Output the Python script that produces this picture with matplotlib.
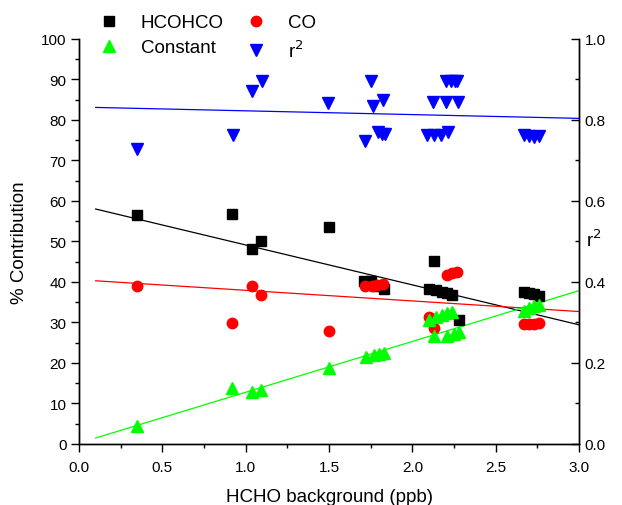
import matplotlib
matplotlib.use("Agg")
import matplotlib.pyplot as plt
import numpy as np

plt.rcParams['font.family'] = ['Liberation Sans', 'DejaVu Sans']

# ---- data ----
hco_x = [0.35, 0.92, 1.04, 1.09, 1.50, 1.71, 1.75, 1.79, 1.83,
         2.10, 2.127, 2.14, 2.18, 2.21, 2.24, 2.28,
         2.67, 2.70, 2.73, 2.76]
hco_y = [56.5, 56.8, 48.1, 50.0, 53.5, 40.2, 40.3, 39.0, 38.3,
         38.3, 45.1, 37.9, 37.6, 37.2, 36.8, 30.7,
         37.6, 37.3, 37.0, 36.5]

co_x = [0.35, 0.92, 1.04, 1.09, 1.50, 1.716, 1.756, 1.786, 1.826,
        2.10, 2.127, 2.13, 2.21, 2.24, 2.27,
        2.67, 2.70, 2.73, 2.76]
co_y = [39.0, 29.8, 39.1, 36.9, 28.0, 39.1, 38.9, 39.3, 39.5,
        31.3, 28.6, 30.9, 41.7, 42.1, 42.4,
        29.6, 29.6, 29.7, 29.9]

const_x = [0.35, 0.92, 1.04, 1.09, 1.50, 1.72, 1.77, 1.80, 1.83,
           2.10, 2.14, 2.18, 2.21, 2.24, 2.127, 2.21, 2.25, 2.28,
           2.67, 2.70, 2.73, 2.76]
const_y = [4.4, 13.75, 12.9, 13.4, 18.8, 21.4, 22.0, 22.2, 22.5,
           30.7, 31.3, 31.9, 32.3, 32.7, 26.6, 26.6, 27.2, 27.6,
           32.9, 33.5, 34.0, 34.3]

r2_x = [0.346, 0.922, 1.04, 1.096, 1.496,
        1.716, 1.752, 1.762, 1.796, 1.816, 1.826, 1.836,
        2.09, 2.122, 2.13, 2.17, 2.202, 2.202, 2.216, 2.232, 2.256, 2.27, 2.276,
        2.67, 2.70, 2.73, 2.76]
r2_y = [0.728, 0.763, 0.872, 0.897, 0.842,
        0.749, 0.897, 0.835, 0.770, 0.765, 0.850, 0.765,
        0.763, 0.844, 0.763, 0.763, 0.844, 0.895, 0.771, 0.897, 0.897, 0.897, 0.844,
        0.762, 0.760, 0.758, 0.760]

# linear fit lines: (intercept at x=0, slope)
fit_range = [0.1, 3.0]
hco_fit = [59.0, -9.86]
co_fit = [40.56, -2.62]
const_fit = [0.22, 12.55]
r2_fit = [0.8319, -0.0093]

# ---- plot ----
fig = plt.figure(figsize=(6.22, 5.06), dpi=100)
ax = fig.add_axes([0.127, 0.1206, 0.804, 0.8004])
ax2 = ax.twinx()

xf = np.array(fit_range)
ax.plot(xf, hco_fit[0] + hco_fit[1] * xf, color='black', lw=0.9, zorder=2)
ax.plot(xf, co_fit[0] + co_fit[1] * xf, color='#ff0000', lw=0.9, zorder=2)
ax.plot(xf, const_fit[0] + const_fit[1] * xf, color='#00ff00', lw=0.9, zorder=2)
ax2.plot(xf, r2_fit[0] + r2_fit[1] * xf, color='#0000ff', lw=0.9, zorder=2)

h1, = ax.plot(hco_x, hco_y, 's', color='black', ms=6.5, ls='none', label='HCOHCO', zorder=3)
h2, = ax.plot(co_x, co_y, 'o', color='#ff0000', ms=7.5, ls='none', label='CO', zorder=3)
h3, = ax.plot(const_x, const_y, '^', color='#00ff00', ms=8.5, ls='none', label='Constant', zorder=3)
h4, = ax2.plot(r2_x, r2_y, 'v', color='#0000ff', ms=8.5, ls='none', label='r$^2$', zorder=3)

ax.set_xlim(0, 3.0)
ax.set_ylim(0, 100)
ax2.set_ylim(0, 1.0)

ax.set_xticks(np.arange(0, 3.01, 0.5))
ax.set_xticks(np.arange(0.25, 3.0, 0.5), minor=True)
ax.set_yticks(np.arange(0, 101, 10))
ax.set_yticks(np.arange(5, 100, 10), minor=True)
ax2.set_yticks(np.arange(0, 1.01, 0.2))
ax2.set_yticks(np.arange(0.1, 1.0, 0.2), minor=True)
ax.xaxis.set_major_formatter(matplotlib.ticker.FormatStrFormatter('%.1f'))
ax2.yaxis.set_major_formatter(matplotlib.ticker.FormatStrFormatter('%.1f'))

for a in (ax, ax2):
    a.spines['top'].set_visible(False)
    for s in a.spines.values():
        s.set_linewidth(1.0)

ax.tick_params(axis='both', which='major', direction='out', length=5.5, width=1, labelsize=11)
ax.tick_params(axis='both', which='minor', direction='out', length=3, width=1)
ax.tick_params(axis='x', pad=6)
ax2.tick_params(axis='y', which='major', direction='in', length=5.5, width=1, labelsize=11, pad=4)
ax2.tick_params(axis='y', which='minor', direction='in', length=3, width=1)

ax.set_xlabel('HCHO background (ppb)', fontsize=13.5, labelpad=10)
ax.set_ylabel('% Contribution', fontsize=13.5, labelpad=9)
ax2.set_ylabel('r$^2$', fontsize=13.5, rotation=0, va='center', ha='center')
ax2.yaxis.set_label_coords(1.03, 0.506)

leg = fig.legend(handles=[h1, h3, h2, h4], labels=['HCOHCO', 'Constant', 'CO', 'r$^2$'],
                 ncol=2, frameon=False, fontsize=13.5, loc='upper left',
                 bbox_to_anchor=(0.145, 0.985), handlelength=1.2, handletextpad=1.1,
                 columnspacing=1.1, labelspacing=0.42, borderaxespad=0)

fig.savefig('out.png', dpi=100)
